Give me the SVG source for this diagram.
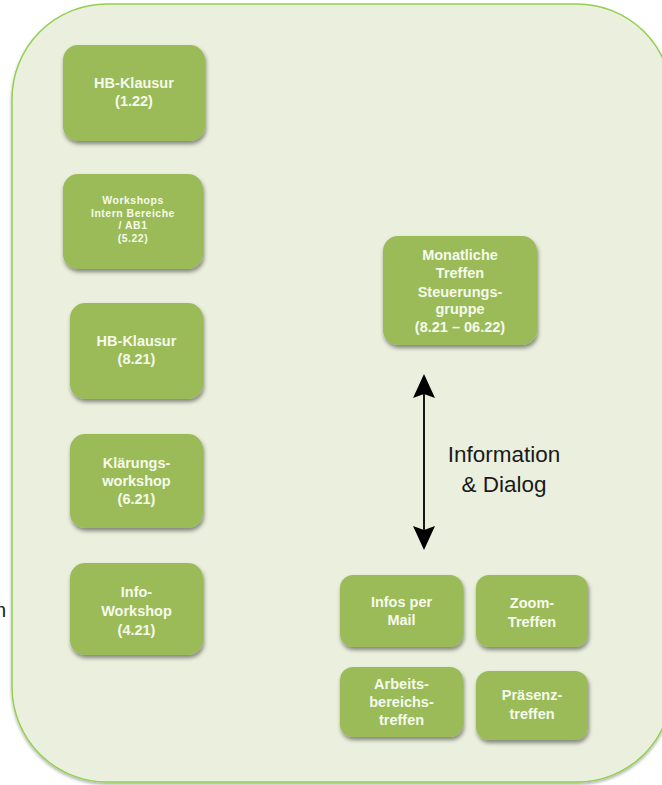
<svg xmlns="http://www.w3.org/2000/svg" width="662" height="785" viewBox="0 0 662 785">
<defs>
<filter id="sh" x="-20%" y="-20%" width="140%" height="150%">
<feDropShadow dx="1" dy="3" stdDeviation="2" flood-color="#000" flood-opacity="0.45"/>
</filter>
<filter id="osh" x="-5%" y="-5%" width="110%" height="110%">
<feDropShadow dx="0" dy="2" stdDeviation="1.5" flood-color="#000" flood-opacity="0.3"/>
</filter>
<marker id="ah" viewBox="0 0 24 26" refX="22" refY="13" markerWidth="24" markerHeight="26" markerUnits="userSpaceOnUse" orient="auto-start-reverse">
<path d="M0,2 L24,13 L0,24 L4,13 Z" fill="#000"/>
</marker>
</defs>
<style>
.nd{fill:#9BBB59;filter:url(#sh)}
.t{font-family:"Liberation Sans",Arial,sans-serif;font-weight:bold;font-size:14.5px;fill:#F5FAEC;text-anchor:middle}
.ts{font-family:"Liberation Sans",Arial,sans-serif;font-weight:bold;font-size:10.5px;letter-spacing:0.5px;fill:#F5FAEC;text-anchor:middle}
.lb{font-family:"Liberation Sans",Arial,sans-serif;font-size:22.5px;fill:#1a1a1a;text-anchor:middle}
</style>
<rect width="662" height="785" fill="#fff"/>
<text x="-5" y="617" font-family="Liberation Sans,Arial,sans-serif" font-size="20" fill="#222">n</text>
<g id="outer">
<rect x="12" y="4" width="660" height="778" rx="95" ry="95" fill="#EBF0DE" stroke="#92D050" stroke-width="1.5" filter="url(#osh)"/>
</g>
<g id="n1"><rect class="nd" x="63" y="45" width="142" height="96" rx="15"/>
<text class="t" x="134" y="88">HB-Klausur</text><text class="t" x="134" y="106">(1.22)</text></g>
<g id="n2"><rect class="nd" x="63" y="174" width="140" height="95" rx="15"/>
<text class="ts" x="133" y="204">Workshops</text><text class="ts" x="133" y="216.5">Intern Bereiche</text><text class="ts" x="133" y="229">/ AB1</text><text class="ts" x="133" y="241.5">(5.22)</text></g>
<g id="n3"><rect class="nd" x="70" y="303" width="133" height="96" rx="15"/>
<text class="t" x="136.5" y="346">HB-Klausur</text><text class="t" x="136.5" y="364">(8.21)</text></g>
<g id="n4"><rect class="nd" x="70" y="434" width="133" height="94" rx="15"/>
<text class="t" x="136.5" y="468">Klärungs-</text><text class="t" x="136.5" y="486">workshop</text><text class="t" x="136.5" y="504">(6.21)</text></g>
<g id="n5"><rect class="nd" x="70" y="563" width="133" height="92" rx="15"/>
<text class="t" x="136.5" y="597">Info-</text><text class="t" x="136.5" y="616">Workshop</text><text class="t" x="136.5" y="635">(4.21)</text></g>
<g id="n6"><rect class="nd" x="383" y="236" width="154" height="109" rx="15"/>
<text class="t" x="460" y="260">Monatliche</text><text class="t" x="460" y="278">Treffen</text><text class="t" x="460" y="297">Steuerungs-</text><text class="t" x="460" y="314">gruppe</text><text class="t" x="460" y="332">(8.21 – 06.22)</text></g>
<g id="n7"><rect class="nd" x="340" y="575" width="123" height="72" rx="13"/>
<text class="t" x="401.5" y="607">Infos per</text><text class="t" x="401.5" y="625">Mail</text></g>
<g id="n8"><rect class="nd" x="476" y="575" width="112" height="72" rx="13"/>
<text class="t" x="532" y="608">Zoom-</text><text class="t" x="532" y="627">Treffen</text></g>
<g id="n9"><rect class="nd" x="340" y="667" width="123" height="70" rx="13"/>
<text class="t" x="401.5" y="689">Arbeits-</text><text class="t" x="401.5" y="707">bereichs-</text><text class="t" x="401.5" y="725">treffen</text></g>
<g id="n10"><rect class="nd" x="476" y="671" width="112" height="69" rx="13"/>
<text class="t" x="532" y="700">Präsenz-</text><text class="t" x="532" y="719">treffen</text></g>
<g id="connectors">
<line x1="424" y1="376" x2="424" y2="548" stroke="#000" stroke-width="1.8" marker-start="url(#ah)" marker-end="url(#ah)"/>
<text class="lb" x="504" y="462">Information</text>
<text class="lb" x="504" y="492">&amp; Dialog</text>
</g>
</svg>
